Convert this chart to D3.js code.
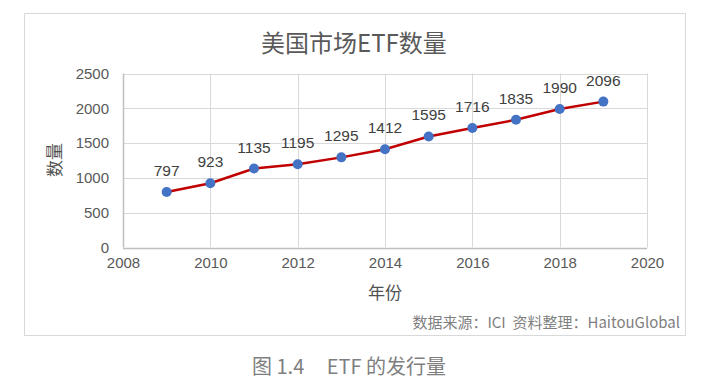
<!DOCTYPE html>
<html><head><meta charset="utf-8">
<script src="https://cdn.jsdelivr.net/npm/d3@7"></script>
<style>
html,body{margin:0;padding:0;background:#fff;}
svg{display:block;font-family:"Noto Sans CJK SC","Noto Sans","Liberation Sans",sans-serif;}
</style></head>
<body>
<svg id="c" width="707" height="386"></svg>
<script>
const years = [2009,2010,2011,2012,2013,2014,2015,2016,2017,2018,2019];
const counts = [797,923,1135,1195,1295,1412,1595,1716,1835,1990,2096];
const xTicks = [2008,2010,2012,2014,2016,2018,2020];
const yTicks = [0,500,1000,1500,2000,2500];
const title = "美国市场ETF数量";
const xLabel = "年份";
const yLabel = "数量";
const source = "数据来源：ICI  资料整理：HaitouGlobal";
const caption = "图 1.4     ETF 的发行量";

(function(){
const svg = d3.select("#c");
const pL = 123, pR = 647, pT = 73.5, pB = 247.5;
const x = d3.scaleLinear().domain([2008,2020]).range([pL,pR]);
const y = d3.scaleLinear().domain([0,2500]).range([pB,pT]);

svg.append("rect").attr("x",24.5).attr("y",13.5).attr("width",661).attr("height",322)
  .attr("fill","#fff").attr("stroke","#d9d9d9").attr("stroke-width",1);

svg.append("text").attr("x",354).attr("y",52).attr("text-anchor","middle")
  .attr("font-size",24).attr("fill","#595959").text(title);

const g = svg.append("g");
g.selectAll("line.h").data(yTicks).enter().append("line")
  .attr("x1",pL).attr("x2",pR).attr("y1",d=>Math.round(y(d))+0.5).attr("y2",d=>Math.round(y(d))+0.5)
  .attr("stroke",d=>d===0?"#bfbfbf":"#d9d9d9").attr("stroke-width",d=>d===0?1.5:1);
g.selectAll("line.v").data(xTicks).enter().append("line")
  .attr("y1",pT).attr("y2",pB).attr("x1",d=>Math.round(x(d))+0.5).attr("x2",d=>Math.round(x(d))+0.5)
  .attr("stroke",d=>d===2008?"#bfbfbf":"#d9d9d9").attr("stroke-width",d=>d===2008?1.5:1);

const yAxis = d3.axisLeft(y).tickValues(yTicks).tickFormat(d3.format("d")).tickSize(0).tickPadding(14);
const ya = svg.append("g").attr("transform",`translate(${pL},0)`).call(yAxis);
ya.select(".domain").remove();
ya.selectAll("text").attr("font-size",15).attr("fill","#595959").attr("font-family","'Liberation Sans',sans-serif");

const xAxis = d3.axisBottom(x).tickValues(xTicks).tickFormat(d3.format("d")).tickSize(0).tickPadding(10);
const xa = svg.append("g").attr("transform",`translate(0,${pB})`).call(xAxis);
xa.select(".domain").remove();
xa.selectAll("text").attr("font-size",15).attr("fill","#595959").attr("font-family","'Liberation Sans',sans-serif");

svg.append("text").attr("x",385).attr("y",299).attr("text-anchor","middle")
  .attr("font-size",17).attr("fill","#505050").text(xLabel);
svg.append("text").attr("transform","translate(61,160) rotate(-90)").attr("text-anchor","middle")
  .attr("font-size",17).attr("fill","#505050").text(yLabel);

const data = years.map((yr,i)=>({yr,v:counts[i]}));
svg.append("path").datum(data)
  .attr("d",d3.line().x(d=>x(d.yr)).y(d=>y(d.v)))
  .attr("fill","none").attr("stroke","#c00000").attr("stroke-width",2.5);
svg.selectAll("circle.pt").data(data).enter().append("circle")
  .attr("cx",d=>x(d.yr)).attr("cy",d=>y(d.v)).attr("r",5).attr("fill","#4472c4");
svg.selectAll("text.lbl").data(data).enter().append("text")
  .attr("x",d=>x(d.yr)).attr("y",d=>y(d.v)-16).attr("text-anchor","middle")
  .attr("font-size",15.5).attr("fill","#404040").attr("font-family","'Liberation Sans',sans-serif")
  .text(d=>d.v);

svg.append("text").attr("x",680).attr("y",328).attr("text-anchor","end")
  .attr("font-size",15).attr("fill","#7f7f7f").text(source.replace(/ /g,"\u00a0"));

svg.append("text").attr("x",252).attr("y",374)
  .attr("font-size",20).attr("fill","#7f7f7f").text(caption.replace(/ /g,"\u00a0"));
})();
</script>
</body></html>
